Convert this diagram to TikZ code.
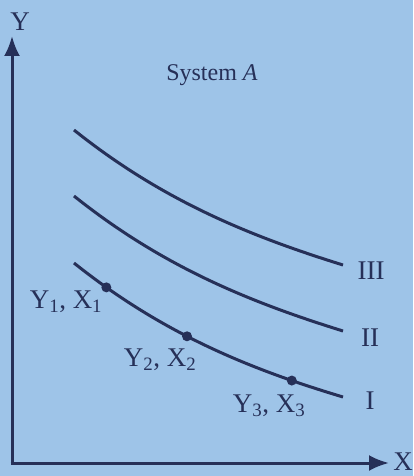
\documentclass[tikz,border=0pt]{standalone}
\usepackage{fontspec}
\setmainfont{Liberation Serif}
\usetikzlibrary{arrows.meta}
\definecolor{paper}{RGB}{158,196,232}
\definecolor{ink}{RGB}{38,48,88}
\tikzset{
  axis/.style={draw=ink, line width=3pt, -{Latex[length=20pt,width=16pt]}},
  curve/.style={draw=ink, line width=3pt},
  dot/.style={circle, fill=ink, inner sep=0pt, minimum size=10pt},
  lbl/.style={text=ink, font=\fontsize{27}{30}\selectfont, inner sep=0pt},
  title/.style={text=ink, font=\fontsize{24}{28}\selectfont, inner sep=0pt}
}
\begin{document}
\begin{tikzpicture}[x=1pt,y=-1pt]
\fill[paper] (0,0) rectangle (413,476);
\useasboundingbox (0,0) rectangle (413,476);
\coordinate (O) at (12,463);
\coordinate (ytip) at (12,36);
\coordinate (xtip) at (389,463);
\draw[axis] (O) -- (ytip);
\draw[axis] ([xshift=-1.5pt]O) -- (xtip);
\node[lbl] (ylab) at (20,22) {Y};
\node[lbl] (xlab) at (403,462) {X};
\node[title] (sys) at (212,75) {System \textit{A}};
% curves
\coordinate (a3) at (74,130); \coordinate (b3) at (343,265);
\coordinate (a2) at (74,196); \coordinate (b2) at (343,331);
\coordinate (a1) at (74,263); \coordinate (b1) at (343,397);
\draw[curve] (a3) .. controls (164,202) and (253,237) .. (b3);
\draw[curve] (a2) .. controls (164,268) and (253,303) .. (b2);
\draw[curve] (a1) .. controls (164,335) and (253,370) .. (b1)
  node[dot,pos=0.12] (p1) {}
  node[dot,pos=0.42] (p2) {}
  node[dot,pos=0.81] (p3) {};
\node[lbl] (l3) at (371,271) {III};
\node[lbl] (l2) at (370,338) {II};
\node[lbl] (l1) at (370,401) {I};
\node[lbl] (t1) at (66,302) {Y$_{\mathrm{1}}$, X$_{\mathrm{1}}$};
\node[lbl] (t2) at (160,360) {Y$_{\mathrm{2}}$, X$_{\mathrm{2}}$};
\node[lbl] (t3) at (269,406) {Y$_{\mathrm{3}}$, X$_{\mathrm{3}}$};
\end{tikzpicture}
\end{document}
